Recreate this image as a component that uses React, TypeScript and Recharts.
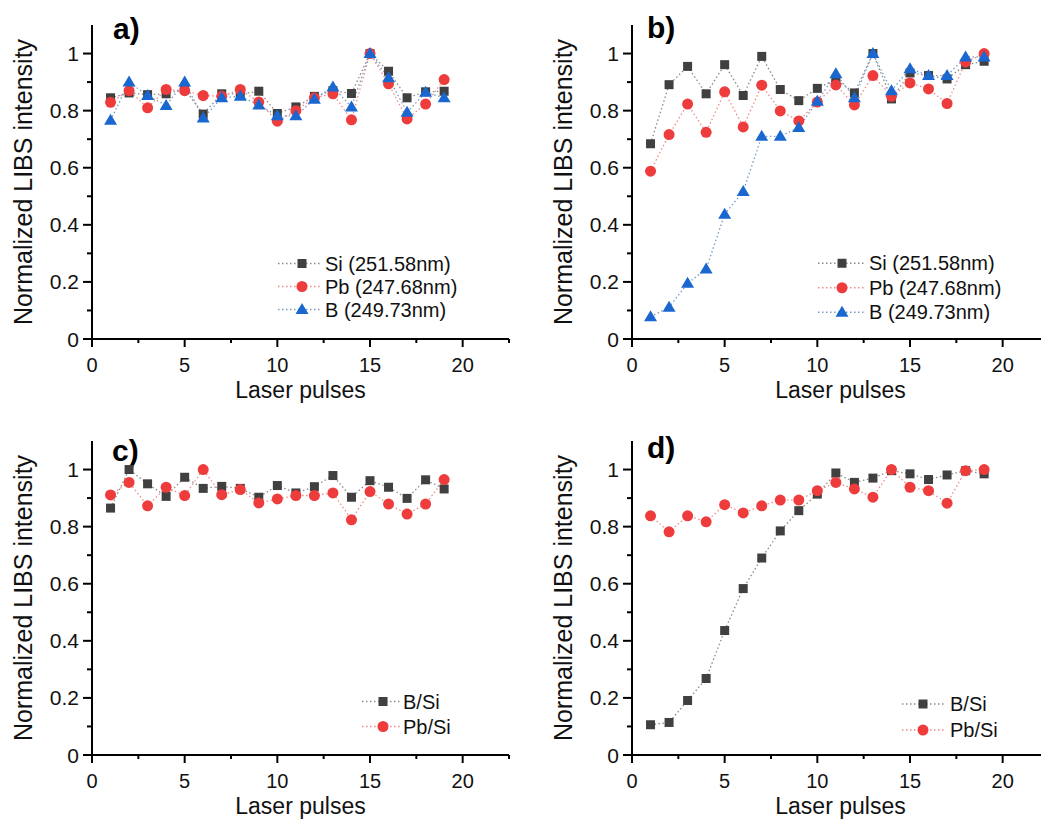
import React from 'react'
import { LineChart, Line, XAxis, YAxis, Legend } from 'recharts'

const pulses = [1, 2, 3, 4, 5, 6, 7, 8, 9, 10, 11, 12, 13, 14, 15, 16, 17, 18, 19]

// a) line intensities
const siA = [0.845, 0.862, 0.856, 0.859, 0.875, 0.788, 0.859, 0.858, 0.868, 0.79, 0.813, 0.85, 0.87, 0.86, 1.0, 0.938, 0.845, 0.866, 0.868]
const pbA = [0.829, 0.87, 0.81, 0.874, 0.87, 0.853, 0.85, 0.874, 0.83, 0.763, 0.8, 0.845, 0.859, 0.768, 1.0, 0.894, 0.771, 0.823, 0.909]
const bA = [0.766, 0.9, 0.853, 0.818, 0.9, 0.774, 0.845, 0.85, 0.82, 0.782, 0.782, 0.84, 0.883, 0.813, 1.0, 0.915, 0.794, 0.864, 0.845]

// b) line intensities
const siB = [0.684, 0.891, 0.955, 0.859, 0.961, 0.853, 0.99, 0.874, 0.835, 0.878, 0.91, 0.862, 1.0, 0.841, 0.932, 0.923, 0.911, 0.961, 0.973]
const pbB = [0.588, 0.716, 0.823, 0.724, 0.866, 0.743, 0.889, 0.799, 0.764, 0.83, 0.89, 0.82, 0.923, 0.85, 0.897, 0.876, 0.825, 0.97, 1.0]
const bB = [0.078, 0.111, 0.195, 0.245, 0.437, 0.517, 0.71, 0.71, 0.741, 0.833, 0.929, 0.845, 1.0, 0.87, 0.947, 0.923, 0.923, 0.988, 0.988]

// c) ratios
const bSiC = [0.865, 1.0, 0.95, 0.906, 0.973, 0.934, 0.941, 0.934, 0.903, 0.944, 0.918, 0.94, 0.979, 0.903, 0.961, 0.938, 0.899, 0.964, 0.932]
const pbSiC = [0.911, 0.955, 0.873, 0.938, 0.909, 1.0, 0.912, 0.93, 0.883, 0.897, 0.909, 0.909, 0.918, 0.824, 0.923, 0.879, 0.844, 0.879, 0.965]

// d) ratios
const bSiD = [0.106, 0.114, 0.191, 0.268, 0.436, 0.583, 0.69, 0.785, 0.856, 0.914, 0.988, 0.955, 0.97, 0.996, 0.985, 0.965, 0.981, 0.996, 0.985]
const pbSiD = [0.838, 0.782, 0.838, 0.817, 0.877, 0.848, 0.873, 0.893, 0.893, 0.926, 0.955, 0.932, 0.903, 1.0, 0.938, 0.926, 0.882, 0.996, 1.0]

const xTicks = [0, 2.5, 5, 7.5, 10, 12.5, 15, 17.5, 20, 22.5]
const yTicks = [0, 0.1, 0.2, 0.3, 0.4, 0.5, 0.6, 0.7, 0.8, 0.9, 1]

const FONT = '"Liberation Sans", Arial, sans-serif'
const INK = '#111'

type Shape = 'square' | 'circle' | 'triangle'
type Series = { key: string; name: string; color: string; line: string; shape: Shape; values: number[] }

const SI = { color: '#404040', line: '#8a8a8a', shape: 'square' as Shape }
const PB = { color: '#ee3b3b', line: '#f08a8a', shape: 'circle' as Shape }
const BO = { color: '#1b67d0', line: '#7a9cc8', shape: 'triangle' as Shape }

// plot geometry inside each chart svg
const PLOT_LEFT = 92
const PLOT_TOP = 25
const PLOT_W = 417
const PLOT_H = 314
const CHART_W = 520
const CHART_H = 410

function Marker({ shape, cx, cy, color }: { shape: Shape; cx: number; cy: number; color: string }) {
  if (shape === 'square') return <rect x={cx - 4.5} y={cy - 4.5} width={9} height={9} fill={color} />
  if (shape === 'circle') return <circle cx={cx} cy={cy} r={5.5} fill={color} />
  return <polygon points={`${cx},${cy - 6.5} ${cx - 6.5},${cy + 4.5} ${cx + 6.5},${cy + 4.5}`} fill={color} />
}

function XTick({ x, y, payload }: any) {
  const v = payload.value
  const major = v % 5 === 0
  return (
    <g>
      <line x1={x} x2={x} y1={y} y2={y + (major ? 8 : 4)} stroke="#000" strokeWidth={2} />
      {major && (
        <text x={x} y={y + 33} textAnchor="middle" fontSize={20} fontFamily={FONT} fill={INK}>
          {v}
        </text>
      )}
    </g>
  )
}

function YTick({ x, y, payload }: any) {
  const v = payload.value
  const major = Math.round(v * 10) % 2 === 0
  return (
    <g>
      <line x1={x} x2={x - (major ? 9 : 5)} y1={y} y2={y} stroke="#000" strokeWidth={2} />
      {major && (
        <text x={x - 13} y={y + 7.5} textAnchor="end" fontSize={21} fontFamily={FONT} fill={INK}>
          {v}
        </text>
      )}
    </g>
  )
}

function XTitle() {
  return (
    <text x={PLOT_LEFT + PLOT_W / 2} y={PLOT_TOP + PLOT_H + 58.5} textAnchor="middle" fontSize={23} fontFamily={FONT} fill={INK}>
      Laser pulses
    </text>
  )
}

function YTitle({ letter, lx, ly }: { letter: string; lx: number; ly: number }) {
  return (
    <g>
      <text
        transform={`translate(32, ${PLOT_TOP + PLOT_H / 2}) rotate(-90)`}
        textAnchor="middle"
        fontSize={25}
        fontFamily={FONT}
        fill={INK}
      >
        Normalized LIBS intensity
      </text>
      <text x={lx} y={ly} fontSize={30} fontWeight="bold" fontFamily={FONT} fill="#000">
        {letter}
      </text>
    </g>
  )
}

type LegendLayout = { x: number; first: number; gap: number; markerDx: number; lineEnd: number; textDx: number }

function LegendBox({ series, lay }: { series: Series[]; lay: LegendLayout }) {
  const h = lay.gap * series.length
  return (
    <svg width={230} height={h} style={{ display: 'block', overflow: 'visible' }}>
      {series.map((s, i) => {
        const cy = lay.gap / 2 + i * lay.gap
        return (
          <g key={s.key}>
            <line x1={0} x2={lay.lineEnd} y1={cy} y2={cy} stroke={s.line} strokeWidth={1.3} strokeDasharray="1.5 2.5" />
            <Marker shape={s.shape} cx={lay.markerDx} cy={cy} color={s.color} />
            <text x={lay.textDx} y={cy + 7} fontSize={20} fontFamily={FONT} fill={INK}>
              {s.name}
            </text>
          </g>
        )
      })}
    </svg>
  )
}

function Panel({
  left,
  top,
  letter,
  lx,
  ly,
  series,
  lay,
}: {
  left: number
  top: number
  letter: string
  lx: number
  ly: number
  series: Series[]
  lay: LegendLayout
}) {
  const data = pulses.map((p, i) => {
    const row: Record<string, number> = { x: p }
    series.forEach((s) => {
      row[s.key] = s.values[i]
    })
    return row
  })

  return (
    <div style={{ position: 'absolute', left, top, width: CHART_W, height: CHART_H }}>
      <LineChart
        width={CHART_W}
        height={CHART_H}
        data={data}
        margin={{ top: PLOT_TOP, right: CHART_W - PLOT_LEFT - PLOT_W, bottom: CHART_H - PLOT_TOP - PLOT_H - 60, left: 0 }}
      >
        <XAxis
          dataKey="x"
          type="number"
          domain={[0, 22.5]}
          ticks={xTicks}
          interval={0}
          height={60}
          tickSize={0}
          tickMargin={0}
          tickLine={false}
          tick={<XTick />}
          axisLine={{ stroke: '#000', strokeWidth: 2 }}
          label={<XTitle />}
        />
        <YAxis
          type="number"
          domain={[0, 1.1]}
          ticks={yTicks}
          interval={0}
          width={PLOT_LEFT}
          tickSize={0}
          tickMargin={0}
          tickLine={false}
          tick={<YTick />}
          axisLine={{ stroke: '#000', strokeWidth: 2 }}
          label={<YTitle letter={letter} lx={lx} ly={ly} />}
        />
        <Legend
          layout="horizontal"
          verticalAlign="middle"
          align="center"
          wrapperStyle={{ left: lay.x, top: lay.first - lay.gap / 2, width: 230 }}
          content={() => <LegendBox series={series} lay={lay} />}
        />
        {series.map((s) => (
          <Line
            key={s.key}
            dataKey={s.key}
            name={s.name}
            stroke={s.line}
            strokeWidth={1.3}
            strokeDasharray="1.5 2.5"
            isAnimationActive={false}
            activeDot={false}
            dot={(p: any) => <Marker key={`${s.key}-${p.index}`} shape={s.shape} cx={p.cx} cy={p.cy} color={s.color} />}
          />
        ))}
      </LineChart>
    </div>
  )
}

const seriesA: Series[] = [
  { key: 'si', name: 'Si (251.58nm)', values: siA, ...SI },
  { key: 'pb', name: 'Pb (247.68nm)', values: pbA, ...PB },
  { key: 'b', name: 'B (249.73nm)', values: bA, ...BO },
]
const seriesB: Series[] = [
  { key: 'si', name: 'Si (251.58nm)', values: siB, ...SI },
  { key: 'pb', name: 'Pb (247.68nm)', values: pbB, ...PB },
  { key: 'b', name: 'B (249.73nm)', values: bB, ...BO },
]
const seriesC: Series[] = [
  { key: 'bsi', name: 'B/Si', values: bSiC, ...SI },
  { key: 'pbsi', name: 'Pb/Si', values: pbSiC, ...PB },
]
const seriesD: Series[] = [
  { key: 'bsi', name: 'B/Si', values: bSiD, ...SI },
  { key: 'pbsi', name: 'Pb/Si', values: pbSiD, ...PB },
]

export default function App() {
  return (
    <div
      style={{
        position: 'absolute',
        left: 0,
        top: 0,
        width: 1041,
        height: 819,
        overflow: 'hidden',
        background: '#fff',
        fontFamily: FONT,
      }}
    >
      <Panel left={0} top={0} letter="a)" lx={113} ly={39} series={seriesA}
        lay={{ x: 278, first: 263, gap: 23, markerDx: 24, lineEnd: 44, textDx: 47 }} />
      <Panel left={540} top={0} letter="b)" lx={107} ly={38} series={seriesB}
        lay={{ x: 278, first: 263, gap: 24.5, markerDx: 24, lineEnd: 46, textDx: 51 }} />
      <Panel left={0} top={416} letter="c)" lx={112} ly={45} series={seriesC}
        lay={{ x: 362, first: 285, gap: 25, markerDx: 21, lineEnd: 40, textDx: 41 }} />
      <Panel left={540} top={416} letter="d)" lx={107} ly={42} series={seriesD}
        lay={{ x: 362, first: 288, gap: 26, markerDx: 21, lineEnd: 42, textDx: 48 }} />
    </div>
  )
}
